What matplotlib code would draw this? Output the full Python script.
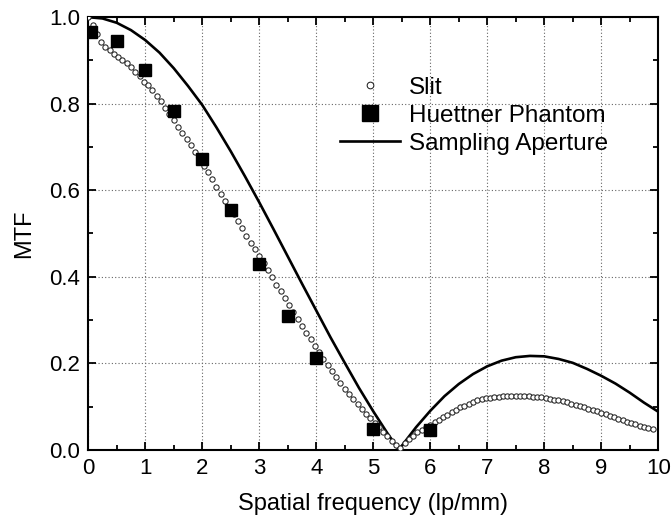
"""MTF comparison: slit, Huettner phantom and sampling aperture."""

import numpy as np
import matplotlib
matplotlib.use("Agg")
import matplotlib.pyplot as plt
from matplotlib.ticker import MultipleLocator

plt.rcParams["font.family"] = ["Liberation Sans", "DejaVu Sans"]

# --------------------------------------------------------------------------- #
# Data
# --------------------------------------------------------------------------- #
SLIT_STEP = 0.075
SLIT_MTF = [
    1.000, 0.983, 0.960, 0.942, 0.932, 0.924, 0.916, 0.908, 0.900, 0.893,
    0.884, 0.874, 0.863, 0.851, 0.843, 0.831, 0.818, 0.806, 0.791, 0.777,
    0.762, 0.747, 0.733, 0.718, 0.704, 0.689, 0.673, 0.657, 0.641, 0.625,
    0.608, 0.592, 0.576, 0.560, 0.544, 0.528, 0.512, 0.495, 0.479, 0.463,
    0.447, 0.431, 0.415, 0.399, 0.382, 0.366, 0.350, 0.334, 0.318, 0.302,
    0.286, 0.271, 0.256, 0.240, 0.225, 0.211, 0.197, 0.183, 0.168, 0.154,
    0.140, 0.128, 0.117, 0.105, 0.094, 0.083, 0.073, 0.063, 0.052, 0.042,
    0.032, 0.021, 0.011, 0.004, 0.016, 0.025, 0.033, 0.040, 0.046, 0.052,
    0.058, 0.064, 0.070, 0.076, 0.081, 0.087, 0.093, 0.098, 0.102, 0.107,
    0.111, 0.114, 0.117, 0.119, 0.120, 0.122, 0.123, 0.124, 0.124, 0.125,
    0.125, 0.125, 0.125, 0.124, 0.123, 0.122, 0.121, 0.120, 0.118, 0.116,
    0.114, 0.112, 0.110, 0.107, 0.104, 0.101, 0.098, 0.095, 0.092, 0.089,
    0.086, 0.082, 0.078, 0.075, 0.071, 0.068, 0.065, 0.062, 0.059, 0.056,
    0.053, 0.050, 0.047,
]
SLIT_FREQ = np.round(np.arange(len(SLIT_MTF)) * SLIT_STEP, 3)

HUETTNER_FREQ = [0.05, 0.5, 1.0, 1.5, 2.0, 2.5, 3.0, 3.5, 4.0, 5.0, 6.0]
HUETTNER_MTF = [0.965, 0.944, 0.878, 0.783, 0.671, 0.554, 0.429, 0.310,
                0.212, 0.048, 0.045]

APERTURE_FREQ = [0.0, 0.25, 0.5, 0.75, 1.0, 1.25, 1.5, 1.75, 2.0, 2.25,
                 2.5, 2.75, 3.0, 3.25, 3.5, 3.75, 4.0, 4.25, 4.5, 4.75,
                 5.0, 5.25, 5.45, 5.5, 5.75, 6.0, 6.25, 6.5, 6.75, 7.0,
                 7.25, 7.5, 7.75, 8.0, 8.25, 8.5, 8.75, 9.0, 9.25, 9.5,
                 9.75, 10.0]
APERTURE_MTF = [1.000, 0.997, 0.987, 0.970, 0.947, 0.918, 0.882, 0.841,
                0.797, 0.745, 0.690, 0.632, 0.572, 0.510, 0.447, 0.384,
                0.322, 0.260, 0.201, 0.143, 0.089, 0.038, 0.000, 0.009,
                0.052, 0.090, 0.124, 0.152, 0.175, 0.193, 0.206, 0.214,
                0.217, 0.216, 0.210, 0.201, 0.187, 0.171, 0.153, 0.132,
                0.109, 0.088]

X_TICKS = list(range(0, 11))
Y_TICKS = [0.0, 0.2, 0.4, 0.6, 0.8, 1.0]

# --------------------------------------------------------------------------- #
# Plot
# --------------------------------------------------------------------------- #
fig = plt.figure(figsize=(6.71, 5.20), dpi=100)
ax = fig.add_axes([0.1315, 0.135, 0.8495, 0.832])

ax.plot(SLIT_FREQ, SLIT_MTF, linestyle="none", marker="o", markersize=3.8,
        markerfacecolor="white", markeredgecolor="#222222",
        markeredgewidth=0.75, label="Slit", zorder=3)
ax.plot(HUETTNER_FREQ, HUETTNER_MTF, linestyle="none", marker="s",
        markersize=8.5, color="black", label="Huettner Phantom", zorder=4)
ax.plot(APERTURE_FREQ, APERTURE_MTF, color="black", linewidth=1.9,
        label="Sampling Aperture", zorder=2)

ax.set_xlim(0, 10)
ax.set_ylim(0, 1.0)
ax.set_xticks(X_TICKS)
ax.set_yticks(Y_TICKS)
ax.set_yticklabels([f"{v:.1f}" for v in Y_TICKS])
ax.xaxis.set_minor_locator(MultipleLocator(0.5))
ax.yaxis.set_minor_locator(MultipleLocator(0.1))

ax.tick_params(which="both", direction="in", top=True, right=True,
               labelsize=16, width=1.3, pad=6)
ax.tick_params(which="major", length=6)
ax.tick_params(which="minor", length=3.5)
for spine in ax.spines.values():
    spine.set_linewidth(1.5)

ax.grid(True, which="major", linestyle=(0, (1, 2)), color="#666666",
        linewidth=0.8)

ax.set_xlabel("Spatial frequency (lp/mm)", fontsize=17, labelpad=10)
ax.set_ylabel("MTF", fontsize=17, labelpad=10)

leg = ax.legend(loc="upper left", bbox_to_anchor=(0.424, 0.885),
                frameon=False, fontsize=17.5, handlelength=2.5,
                handletextpad=0.35, labelspacing=0.25, borderaxespad=0)
handles = leg.legend_handles
handles[0].set_markersize(4.8)
handles[1].set_markersize(11)

fig.savefig("out.png", dpi=100)
